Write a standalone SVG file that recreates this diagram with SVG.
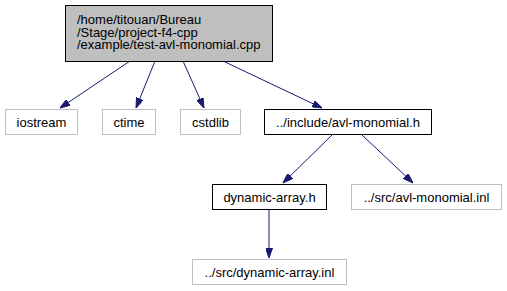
<svg xmlns="http://www.w3.org/2000/svg" width="507" height="291" viewBox="0 0 507 291">
  <style>
    text { font-family: "Liberation Sans", Arial, sans-serif; font-size: 13px; fill: #000; text-anchor: middle; }
    .node rect { fill: #fff; stroke: #bfbfbf; stroke-width: 1; }
    .node.doc rect { stroke: #000; }
    .node.root rect { fill: #bfbfbf; stroke: #000; }
    .node.root text { text-anchor: start; }
    .edge { stroke: #191970; stroke-width: 1; fill: none; marker-end: url(#head); }
  </style>
  <defs>
    <marker id="head" viewBox="0 0 10 7" refX="10" refY="3.5" markerWidth="10" markerHeight="7" markerUnits="userSpaceOnUse" orient="auto">
      <path d="M0,0 L10,3.5 L0,7 Z" fill="#191970" stroke="#191970"/>
    </marker>
  </defs>

  <g id="connectors">
    <path class="edge" d="M130,61 L60,108"/>
    <path class="edge" d="M155,61 L136,108"/>
    <path class="edge" d="M183,61 L204,108"/>
    <path class="edge" d="M223,61 L322,108"/>
    <path class="edge" d="M332,135 L283,183"/>
    <path class="edge" d="M362,135 L413,183"/>
    <path class="edge" d="M269,210 L269,258"/>
  </g>

  <g id="node-test-avl-monomial" class="node root">
    <rect x="65.5" y="5.5" width="207" height="56"/>
    <text x="77" y="24">/home/titouan/Bureau</text>
    <text x="77" y="36.5">/Stage/project-f4-cpp</text>
    <text x="77" y="49">/example/test-avl-monomial.cpp</text>
  </g>

  <g id="node-iostream" class="node">
    <rect x="5.5" y="109.5" width="72" height="25"/>
    <text x="41.5" y="126.5">iostream</text>
  </g>

  <g id="node-ctime" class="node">
    <rect x="102.5" y="109.5" width="53" height="25"/>
    <text x="129" y="126.5">ctime</text>
  </g>

  <g id="node-cstdlib" class="node">
    <rect x="180.5" y="109.5" width="60" height="25"/>
    <text x="210.5" y="126.5">cstdlib</text>
  </g>

  <g id="node-avl-monomial-h" class="node doc">
    <rect x="264.5" y="109.5" width="167" height="25"/>
    <text x="348" y="126.5">../include/avl-monomial.h</text>
  </g>

  <g id="node-dynamic-array-h" class="node doc">
    <rect x="212.5" y="184.5" width="114" height="25"/>
    <text x="269.5" y="201.5">dynamic-array.h</text>
  </g>

  <g id="node-avl-monomial-inl" class="node">
    <rect x="351.5" y="184.5" width="150" height="25"/>
    <text x="426.5" y="201.5">../src/avl-monomial.inl</text>
  </g>

  <g id="node-dynamic-array-inl" class="node">
    <rect x="192.5" y="259.5" width="154" height="25"/>
    <text x="269.5" y="276.5">../src/dynamic-array.inl</text>
  </g>
</svg>
